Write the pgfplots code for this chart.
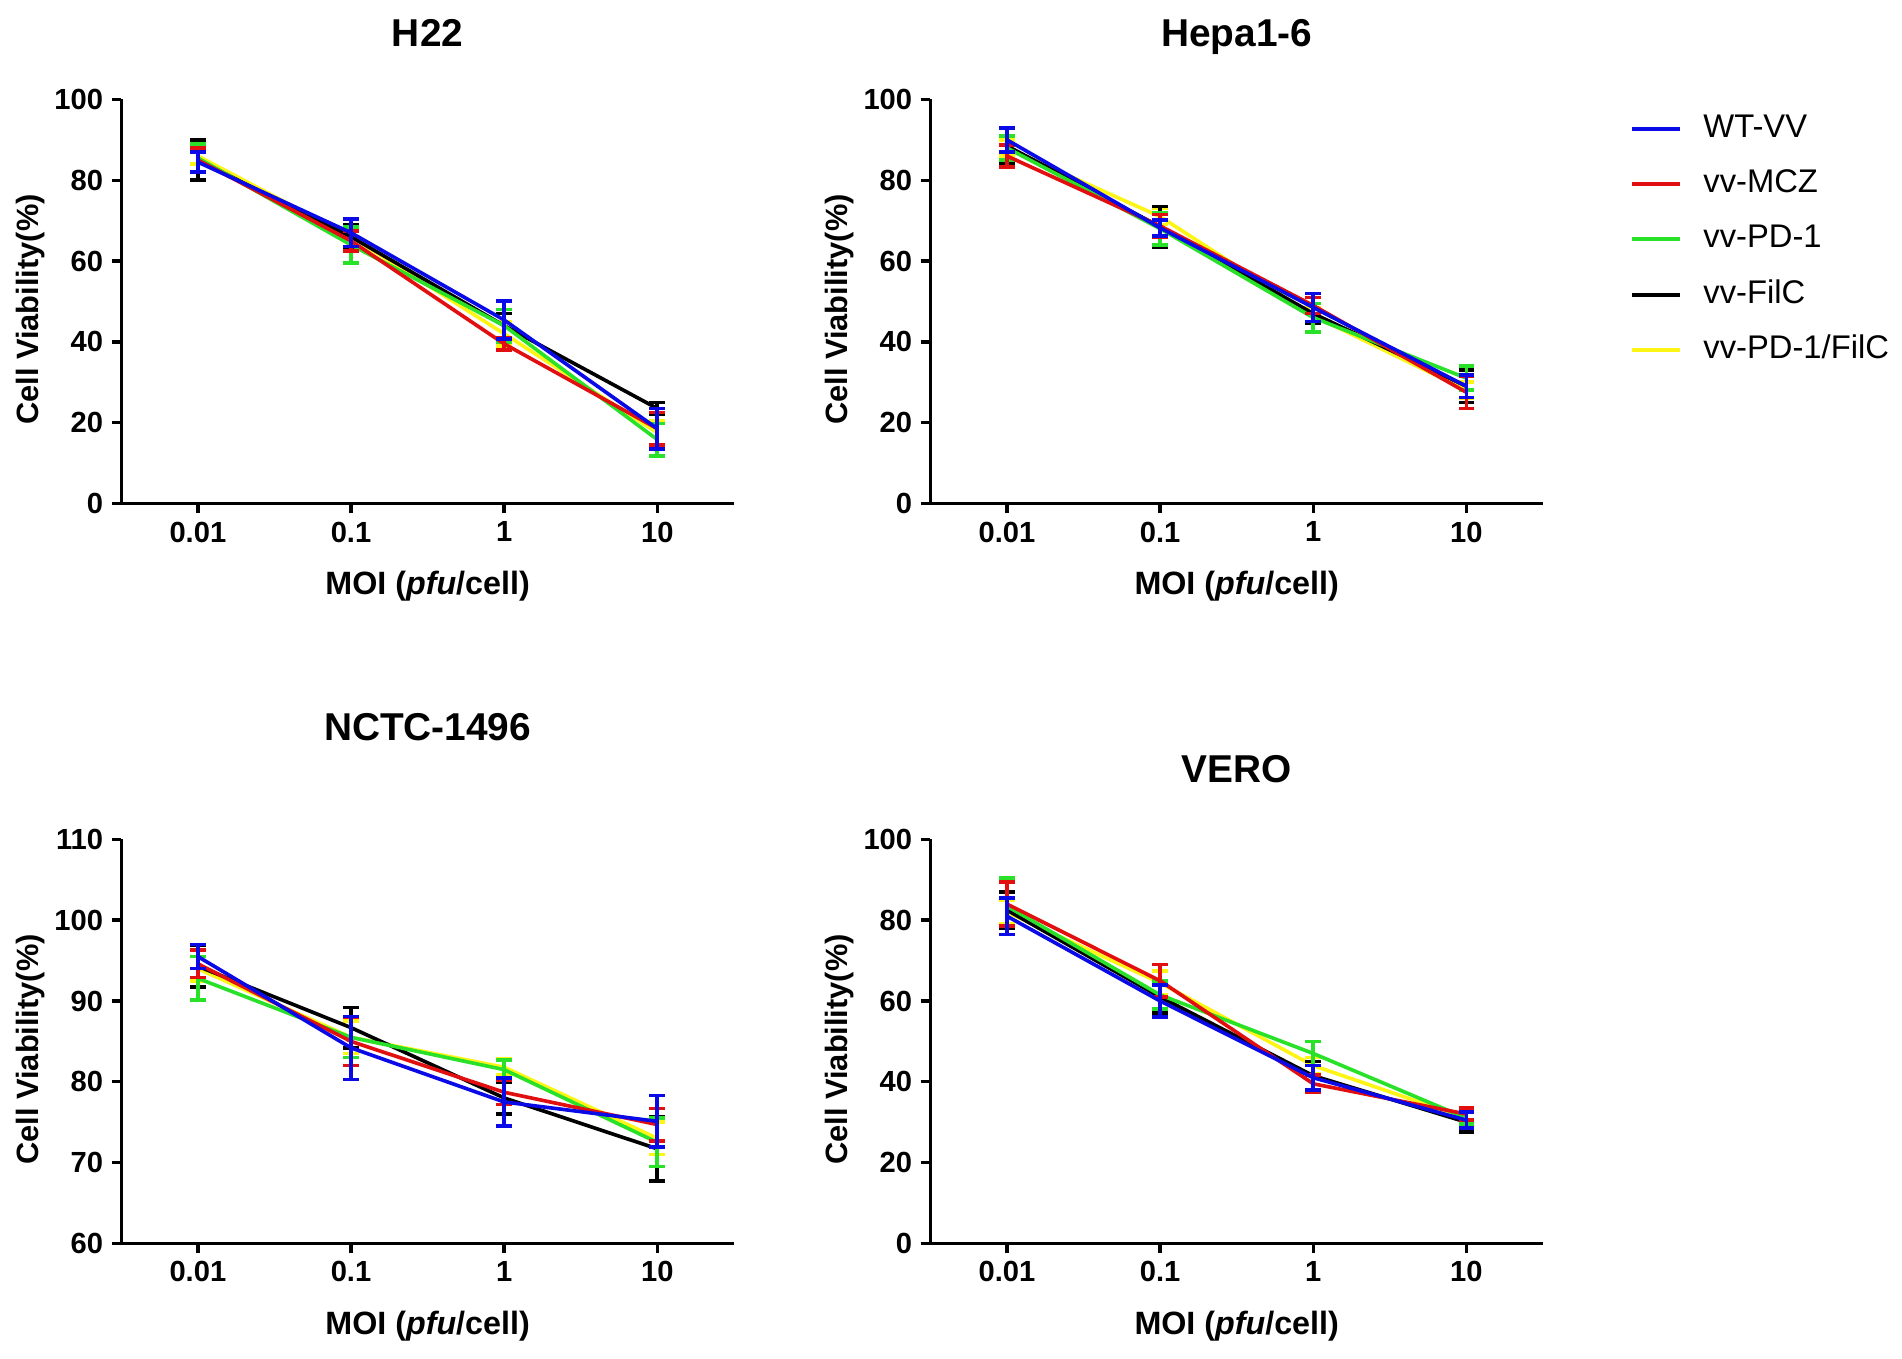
\documentclass[border=0pt]{standalone}
\usepackage{pgfplots}
\pgfplotsset{compat=1.18}
\usepackage{pgfplotstable}
\usepackage{fontspec}
\setmainfont{Liberation Sans}
\definecolor{cblue}{RGB}{10,10,230}
\definecolor{cred}{RGB}{225,15,15}
\definecolor{cgreen}{RGB}{40,225,40}
\definecolor{cyellow}{RGB}{255,245,20}

% columns: x, WT-VV, vv-MCZ, vv-PD-1, vv-FilC, vv-PD-1/FilC (value, error)
\pgfplotstableread{
x wt wte mcz mcze pd pde fil file pf pfe
0 84.5 2.5 85 3 85.5 3.5 85 5 86 2
1 67 3.4 65 2.5 64 4.5 66 3 66 3
2 45.4 4.7 39.5 1.5 44 4 44 3 42 3
3 18.5 5 18.5 4 15.8 4 23.5 1.5 17.5 3
}\tH
\pgfplotstableread{
x wt wte mcz mcze pd pde fil file pf pfe
0 90 3 86 2.7 88 3 88.5 4.5 88 2
1 68.2 2 68.7 2.8 68 4 68.5 5 71 2
2 48.5 3.5 49 2 46 3.5 47 2.5 46.5 2
3 29 2.8 27.5 4 31 3 29 4 28 2
}\tHepa
\pgfplotstableread{
x wt wte mcz mcze pd pde fil file pf pfe
0 95.5 1.5 94.6 1.7 92.8 2.7 94.3 2.6 94 1.5
1 84.2 3.9 85 3 85.5 2.5 86.7 2.5 85.5 2
2 77.5 3 78.7 1.5 81.5 1.2 78 2 81.8 1
3 75.1 3.2 74.7 2 72.5 3 71.7 4 73 2
}\tNCTC
\pgfplotstableread{
x wt wte mcz mcze pd pde fil file pf pfe
0 81 4.5 84 5.5 83.5 7 82.5 4.5 82 3
1 60 4 65 4 61.5 3.5 61 4 64.5 3
2 41 3 39.5 2.2 47 3 41.5 3.5 44 2
3 30.5 2 32 1.5 31 1.5 30 2.5 31 1.5
}\tVero

\newcommand{\lblfont}{\bfseries\fontsize{12.7}{13}\selectfont}
\newcommand{\xlblfont}{\bfseries\fontsize{13.3}{14}\selectfont}
\newcommand{\ttlfont}{\bfseries\fontsize{16}{16}\selectfont}

\pgfplotsset{
  cvstyle/.style={
    scale only axis, width=252.5pt, height=166.5pt,
    axis lines*=left, axis line style={line width=1.4pt},
    tick align=outside, major tick length=4pt,
    every tick/.style={line width=1.4pt, black},
    xmin=-0.5, xmax=3.5, xtick={0,1,2,3}, xticklabels={0.01,0.1,1,10},
    ticklabel style={font=\bfseries\fontsize{12}{12}\selectfont},
    /pgf/number format/assume math mode=true,
    xlabel={\xlblfont MOI (\textit{pfu}/cell)}, ylabel={\lblfont Cell Viability(\%)},
    every axis y label/.style={at={(axis description cs:-0.1485,0.48)}, rotate=90, anchor=center},
    every axis x label/.style={at={(axis description cs:0.5,-0.204)}, anchor=center},
  },
  cvplot/.style={line width=1.5pt, mark=none, forget plot,
    error bars/.cd, y dir=both, y explicit,
    error bar style={line width=1.5pt},
    error mark options={rotate=90, mark size=3.25pt, line width=1.5pt}},
}

\newcommand{\fiveplots}[1]{%
  \addplot[cyellow, cvplot] table[x=x, y=pf, y error=pfe]{#1};
  \addplot[black, cvplot] table[x=x, y=fil, y error=file]{#1};
  \addplot[cgreen, cvplot] table[x=x, y=pd, y error=pde]{#1};
  \addplot[cred, cvplot] table[x=x, y=mcz, y error=mcze]{#1};
  \addplot[cblue, cvplot] table[x=x, y=wt, y error=wte]{#1};
}

\begin{document}
\begin{tikzpicture}
\begin{axis}[cvstyle, at={(50pt,352.5pt)}, anchor=south west,
  ymin=0, ymax=100, ytick={0,20,...,100},
  title={\ttlfont H22}, every axis title/.style={at={(axis description cs:0.5,1.132)}, anchor=base}]
\fiveplots{\tH}
\end{axis}

\begin{axis}[cvstyle, at={(383.5pt,352.5pt)}, anchor=south west,
  ymin=0, ymax=100, ytick={0,20,...,100},
  title={\ttlfont Hepa1-6}, every axis title/.style={at={(axis description cs:0.5,1.132)}, anchor=base},
  legend style={draw=none, fill=none, at={(axis description cs:1.13,0.979)}, anchor=north west,
    font=\fontsize{13.5}{13.5}\selectfont, row sep=9.75pt, column sep=9pt,
    nodes={inner sep=0pt, text height=10pt, text depth=3pt}},
  legend cell align=left,
  legend image code/.code={\draw[line width=1.6pt] (0pt,0pt) -- (19.5pt,0pt);}]
\addlegendimage{cblue}\addlegendentry{WT-VV}
\addlegendimage{cred}\addlegendentry{vv-MCZ}
\addlegendimage{cgreen}\addlegendentry{vv-PD-1}
\addlegendimage{black}\addlegendentry{vv-FilC}
\addlegendimage{cyellow}\addlegendentry{vv-PD-1/FilC}
\fiveplots{\tHepa}
\end{axis}

\begin{axis}[cvstyle, at={(50pt,47.5pt)}, anchor=south west,
  ymin=60, ymax=110, ytick={60,70,...,110},
  title={\ttlfont NCTC-1496}, every axis title/.style={at={(axis description cs:0.5,1.246)}, anchor=base}]
\fiveplots{\tNCTC}
\end{axis}

\begin{axis}[cvstyle, at={(383.5pt,47.5pt)}, anchor=south west,
  ymin=0, ymax=100, ytick={0,20,...,100},
  title={\ttlfont VERO}, every axis title/.style={at={(axis description cs:0.5,1.141)}, anchor=base}]
\fiveplots{\tVero}
\end{axis}
\pgfresetboundingbox
\path (0,0) rectangle (784pt,560pt);
\end{tikzpicture}
\end{document}
